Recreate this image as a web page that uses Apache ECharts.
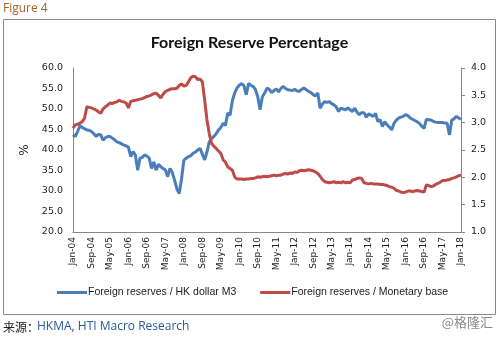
<!DOCTYPE html>
<html><head><meta charset="utf-8">
<script src="https://cdn.jsdelivr.net/npm/echarts@6/dist/echarts.min.js"></script>
<style>html,body{margin:0;padding:0;background:#fff}#c{width:499px;height:345px}</style>
</head><body><div id="c"></div>
<script>
const monthNames = ['Jan','Feb','Mar','Apr','May','Jun','Jul','Aug','Sep','Oct','Nov','Dec'];
const startYear = 2004, endYear = 2018;
const categories = [];
for (let y = startYear; y <= endYear; y++) {
  for (let m = 0; m < 12; m++) {
    if (y === endYear && m > 0) break;
    categories.push(monthNames[m] + '-' + String(y).slice(2));
  }
}
// Foreign reserves / HK dollar M3 (%), left axis
const reservesToM3 = [
  43.7, 43.3, 44.5, 45.9, 45.5, 45.2, 44.9, 44.8, 44.5, 44.0, 43.3, 43.8,
  43.7, 42.4, 43.0, 43.3, 43.3, 42.9, 42.5, 42.0, 41.8, 41.5, 41.2, 41.0,
  40.7, 38.4, 39.6, 38.8, 35.1, 38.0, 38.2, 38.8, 38.5, 38.0, 35.5, 37.1,
  35.1, 36.5, 35.9, 35.5, 35.1, 33.5, 35.5, 34.5, 32.6, 30.5, 29.4, 33.0,
  37.5, 38.0, 38.4, 38.6, 39.2, 39.5, 40.0, 40.4, 39.0, 37.6, 39.5, 42.0,
  42.8, 43.3, 44.0, 44.9, 45.5, 46.5, 46.0, 49.0, 48.5, 52.0, 53.9, 55.1,
  55.8, 56.2, 55.7, 53.5, 56.2, 55.8, 55.5, 54.7, 53.0, 49.8, 53.0, 53.9,
  55.1, 54.8, 54.0, 54.5, 54.9, 54.2, 55.0, 55.5, 55.0, 54.7, 54.6, 54.5,
  54.8, 54.4, 54.3, 54.8, 55.1, 54.7, 54.3, 54.0, 53.5, 53.2, 53.9, 50.2,
  51.2, 51.8, 51.6, 51.8, 51.3, 51.0, 50.5, 49.4, 50.2, 50.0, 49.8, 50.3,
  49.8, 49.4, 50.2, 49.2, 48.6, 49.1, 49.1, 48.0, 48.8, 48.5, 48.2, 48.9,
  46.9, 47.4, 45.7, 46.9, 46.1, 45.6, 44.9, 46.5, 47.3, 47.8, 48.0, 48.2,
  48.6, 48.4, 47.8, 47.5, 47.2, 46.9, 46.5, 45.8, 45.3, 47.5, 47.4, 47.3,
  47.0, 46.8, 46.7, 46.7, 46.7, 46.6, 46.5, 43.7, 47.3, 47.6, 48.2, 47.8,
  47.5
];
// Foreign reserves / Monetary base (ratio), right axis
const reservesToBase = [
  2.90, 2.96, 2.97, 2.99, 3.02, 3.08, 3.29, 3.28, 3.27, 3.25, 3.23, 3.20,
  3.17, 3.25, 3.29, 3.32, 3.36, 3.35, 3.37, 3.38, 3.41, 3.39, 3.38, 3.36,
  3.27, 3.39, 3.40, 3.41, 3.42, 3.43, 3.44, 3.46, 3.48, 3.49, 3.51, 3.53,
  3.54, 3.50, 3.45, 3.52, 3.57, 3.59, 3.61, 3.62, 3.62, 3.63, 3.68, 3.71,
  3.67, 3.68, 3.75, 3.82, 3.85, 3.84, 3.79, 3.80, 3.75, 3.42, 3.05, 2.80,
  2.62, 2.57, 2.53, 2.48, 2.44, 2.32, 2.28, 2.19, 2.16, 2.13, 2.01, 1.97,
  1.97, 1.97, 1.96, 1.97, 1.97, 1.98, 1.98, 1.99, 2.01, 2.00, 2.01, 2.02,
  2.01, 2.02, 2.03, 2.04, 2.03, 2.04, 2.04, 2.06, 2.07, 2.06, 2.08, 2.07,
  2.10, 2.09, 2.12, 2.13, 2.12, 2.13, 2.14, 2.13, 2.12, 2.10, 2.07, 2.02,
  1.96, 1.92, 1.91, 1.90, 1.91, 1.92, 1.90, 1.91, 1.90, 1.92, 1.90, 1.91,
  1.90, 1.95, 1.96, 1.98, 1.99, 1.98, 1.90, 1.89, 1.88, 1.89, 1.88, 1.88,
  1.88, 1.87, 1.87, 1.86, 1.85, 1.83, 1.82, 1.80, 1.76, 1.75, 1.73, 1.72,
  1.73, 1.75, 1.75, 1.74, 1.75, 1.76, 1.75, 1.74, 1.73, 1.86, 1.85, 1.83,
  1.84, 1.87, 1.89, 1.91, 1.94, 1.94, 1.95, 1.96, 1.98, 1.99, 2.01, 2.03,
  2.04
];
const seriesNames = ['Foreign reserves / HK dollar M3', 'Foreign reserves / Monetary base'];
const titleText = 'Foreign Reserve Percentage';
const figureLabel = 'Figure 4';
const sourcePrefix = '来源：';
const sourceText = 'HKMA, HTI Macro Research';
const watermark = '@格隆汇';

const chart = echarts.init(document.getElementById('c'), null, {renderer: 'canvas'});
const axisColor = '#868686';
const labelFont = 'DejaVu Sans';
chart.setOption({
  animation: false,
  backgroundColor: '#fff',
  title: {
    text: titleText, left: 'center', top: 30,
    textStyle: {fontFamily: 'Lato', fontWeight: 'bold', fontSize: 16, color: '#111'}
  },
  legend: {
    bottom: 42, left: 52, itemGap: 24, itemWidth: 30, itemHeight: 3,
    icon: 'rect',
    textStyle: {fontFamily: 'Liberation Sans', fontSize: 10.5, color: '#222', padding: [0,0,0,-4]},
    data: seriesNames
  },
  grid: {left: 73, right: 38, top: 68, bottom: 113},
  xAxis: {
    type: 'category', data: categories, boundaryGap: false,
    axisLine: {lineStyle: {color: axisColor}},
    axisTick: {show: false},
    axisLabel: {interval: 7, rotate: 90, fontFamily: labelFont, fontSize: 9, color: '#222', margin: 5}
  },
  yAxis: [
    {
      type: 'value', min: 20, max: 60, interval: 5,
      name: '%', nameLocation: 'middle', nameGap: 36, nameRotate: 90,
      nameTextStyle: {fontFamily: labelFont, fontSize: 12, color: '#222'},
      axisLine: {show: true, lineStyle: {color: axisColor}},
      axisTick: {show: false}, splitLine: {show: false},
      axisLabel: {fontFamily: labelFont, fontSize: 9.5, color: '#222', margin: 10, formatter: v => v.toFixed(1)}
    },
    {
      type: 'value', min: 1, max: 4, interval: 0.5, position: 'right',
      axisLine: {show: true, lineStyle: {color: axisColor}},
      axisTick: {show: true, length: 4, lineStyle: {color: axisColor}}, splitLine: {show: false},
      axisLabel: {fontFamily: labelFont, fontSize: 9.5, color: '#222', margin: 10, formatter: v => v.toFixed(1)}
    }
  ],
  series: [
    {name: seriesNames[0], type: 'line', data: reservesToM3, yAxisIndex: 0, showSymbol: false,
     lineStyle: {color: '#4a7ebb', width: 3}, itemStyle: {color: '#4a7ebb'}},
    {name: seriesNames[1], type: 'line', data: reservesToBase, yAxisIndex: 1, showSymbol: false,
     lineStyle: {color: '#be4b48', width: 3}, itemStyle: {color: '#be4b48'}}
  ],
  graphic: [
    {type: 'rect', shape: {x: 3.5, y: 19.5, width: 492, height: 295}, style: {fill: 'none', stroke: '#8a8a8a', lineWidth: 1}, silent: true, z: -1},
    {type: 'text', left: 3, top: 3, style: {text: figureLabel, fill: '#a4622b', font: '12px "Open Sans"'}},
    {type: 'text', left: 3, top: 321, style: {text: sourcePrefix, fill: '#222', font: '12px "Noto Sans CJK SC"'}},
    {type: 'text', left: 37, top: 321, style: {text: sourceText, fill: '#2a5a9a', font: '12px "Open Sans"'}},
    {type: 'text', right: 6, top: 316, style: {text: watermark, fill: '#8a8a8a', font: '13px "Noto Sans CJK SC"'}}
  ]
});
</script></body></html>
